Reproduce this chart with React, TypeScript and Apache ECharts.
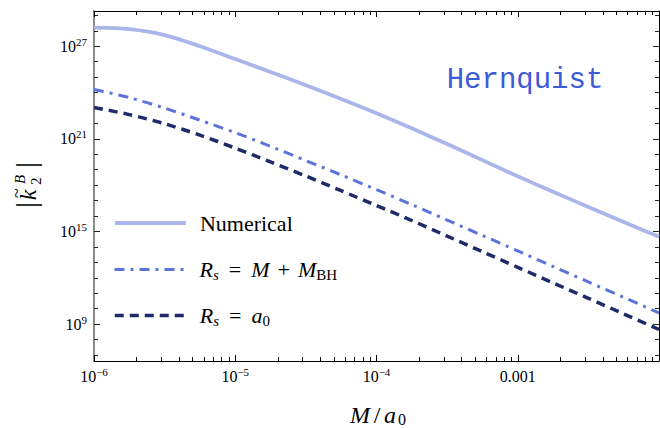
import React, { useEffect, useRef } from 'react';
import * as echarts from 'echarts';

// x sample positions: log10(M/a0)
const massRatioExp = [-6, -5.75, -5.5, -5.25, -5, -4.75, -4.5, -4.25, -4, -3.75, -3.5, -3.25, -3, -2.75, -2.5, -2.25, -2];
// log10 |k2^B|
const numericalLog10K = [28.2, 28.1, 27.72, 27.0, 26.17, 25.33, 24.47, 23.58, 22.66, 21.68, 20.66, 19.62, 18.57, 17.57, 16.59, 15.62, 14.65];
const rsMassBhLog10K = [24.2, 23.67, 22.99, 22.21, 21.4, 20.51, 19.59, 18.66, 17.71, 16.74, 15.74, 14.74, 13.74, 12.73, 11.73, 10.73, 9.73];
const rsA0Log10K = [23.03, 22.57, 21.98, 21.24, 20.4, 19.5, 18.59, 17.64, 16.68, 15.71, 14.7, 13.69, 12.68, 11.67, 10.67, 9.66, 8.65];

const seriesNames = ['Numerical', 'Rs = M + M_BH', 'Rs = a0'];

const xMinExp = -6;
const xMaxExp = -2;
const yMinExp = 6.61;
const yMaxExp = 29.28;
const xMajorTicks = [-6, -5, -4, -3, -2];
const xLabelTicks = [-6, -5, -4, -3];
const xMinorMultipliers = [2, 3, 4, 5, 6, 7, 8, 9];
const yMajorTicks = [9, 15, 21, 27];
const yMinorTicks = [7, 8, 9, 10, 11, 12, 13, 14, 15, 16, 17, 18, 19, 20, 21, 22, 23, 24, 25, 26, 27, 28, 29];

const SERIF = '"Liberation Serif", "Times New Roman", serif';
const MONO = '"Liberation Mono", "Courier New", monospace';

const labelRich = {
  b: { fontFamily: SERIF, fontSize: 16, lineHeight: 18, color: '#000' },
  s: { fontFamily: SERIF, fontSize: 11, lineHeight: 11, padding: [0, 0, 9, 0], color: '#000' },
};

const legendRich = {
  r: { fontFamily: SERIF, fontSize: 22, lineHeight: 26, color: '#000' },
  i: { fontFamily: SERIF, fontSize: 22, lineHeight: 26, fontStyle: 'italic', color: '#000' },
  eq: { fontFamily: SERIF, fontSize: 22, lineHeight: 26, padding: [0, 10, 0, 10], color: '#000' },
  pl: { fontFamily: SERIF, fontSize: 22, lineHeight: 26, padding: [0, 8, 0, 8], color: '#000' },
  sub: { fontFamily: SERIF, fontSize: 15, lineHeight: 16, fontStyle: 'italic', padding: [10, 0, 0, 0], color: '#000' },
  subr: { fontFamily: SERIF, fontSize: 15, lineHeight: 16, padding: [10, 0, 0, 0], color: '#000' },
};

const legendText: Record<string, string> = {
  'Numerical': '{r|Numerical}',
  'Rs = M + M_BH': '{i|R}{sub|s}{eq|=}{i|M}{pl|+}{i|M}{subr|BH}',
  'Rs = a0': '{i|R}{sub|s}{eq|=}{i|a}{subr|0}',
};

function xLabel(v: number): string {
  const e = Math.round(v);
  if (e >= -3) return `{b|${Math.pow(10, e).toFixed(-e)}}`;
  return `{b|10}{s|\u2212${-e}}`;
}
function yLabel(v: number): string {
  return `{b|10}{s|${Math.round(v)}}`;
}

export default function App() {
  const ref = useRef<HTMLDivElement>(null);
  useEffect(() => {
    if (!ref.current) return;
    const chart = echarts.init(ref.current, undefined, { renderer: 'svg' });

    const xMinor: number[] = [];
    for (let n = xMinExp; n < xMaxExp; n++) {
      xMinorMultipliers.forEach((m) => xMinor.push(n + Math.log10(m)));
    }

    const mkX = (position: string, major: boolean, withLine: boolean, withLabel: boolean) => ({
      type: 'value',
      position,
      min: xMinExp,
      max: xMaxExp,
      splitLine: { show: false },
      axisLine: { show: withLine, onZero: false, lineStyle: { color: '#000', width: 1 } },
      axisTick: {
        show: true,
        inside: true,
        length: major ? 6 : 4,
        customValues: major ? xMajorTicks : xMinor,
        lineStyle: { color: '#000', width: 1 },
      },
      axisLabel: withLabel
        ? { show: true, customValues: xLabelTicks, formatter: xLabel, margin: 6, rich: labelRich }
        : { show: false },
    });
    const mkY = (position: string, major: boolean, withLine: boolean, withLabel: boolean, lineColor: string, lineWidth: number) => ({
      type: 'value',
      position,
      min: yMinExp,
      max: yMaxExp,
      splitLine: { show: false },
      axisLine: { show: withLine, onZero: false, lineStyle: { color: lineColor, width: lineWidth } },
      axisTick: {
        show: true,
        inside: true,
        length: major ? 6 : 4,
        customValues: major ? yMajorTicks : yMinorTicks,
        lineStyle: { color: '#222', width: 1 },
      },
      axisLabel: withLabel
        ? { show: true, customValues: yMajorTicks, formatter: yLabel, margin: 7, rich: labelRich }
        : { show: false },
    });

    const colors = ['#aab6ea', '#5c73da', '#1f2a68'];
    const widths = [3.8, 3, 3.5];
    const types: any[] = ['solid', [10, 6, 3, 6], [9, 6]];
    const datasets = [numericalLog10K, rsMassBhLog10K, rsA0Log10K];
    const legendTops = [212, 257, 303];

    const option: any = {
      animation: false,
      backgroundColor: '#fff',
      grid: { left: 94, right: 1, top: 11, bottom: 67, containLabel: false, outerBoundsMode: 'none' },
      xAxis: [
        mkX('bottom', true, true, true),
        mkX('bottom', false, false, false),
        mkX('top', true, true, false),
        mkX('top', false, false, false),
      ],
      yAxis: [
        mkY('left', true, true, true, '#8a8a8a', 2),
        mkY('left', false, false, false, '#8a8a8a', 2),
        mkY('right', true, true, false, '#000', 1),
        mkY('right', false, false, false, '#000', 1),
      ],
      legend: seriesNames.map((name, i) => ({
        data: [name],
        orient: 'vertical',
        left: 113,
        top: legendTops[i],
        padding: 0,
        itemWidth: 71,
        itemHeight: 14,
        selectedMode: false,
        itemStyle: { opacity: 0, borderWidth: 0 },
        lineStyle: { width: widths[i] },
        formatter: (n: string) => legendText[n],
        textStyle: { fontFamily: SERIF, fontSize: 22, color: '#000', padding: [0, 0, 0, 9], rich: legendRich },
      })),
      series: seriesNames.map((name, i) => ({
        name,
        type: 'line',
        xAxisIndex: 0,
        yAxisIndex: 0,
        data: massRatioExp.map((x, j) => [x, datasets[i][j]]),
        symbol: 'none',
        showSymbol: false,
        smooth: 0.3,
        lineStyle: { color: colors[i], width: widths[i], type: types[i] },
        itemStyle: { color: colors[i] },
      })),
      graphic: [
        {
          type: 'text',
          x: 525,
          y: 80,
          style: { text: 'Hernquist', fontFamily: MONO, fontSize: 29, fill: '#3d5bd6', align: 'center', verticalAlign: 'middle' },
        },
        // x-axis title M/a0
        { type: 'text', x: 360, y: 415, style: { text: 'M', fontFamily: SERIF, fontStyle: 'italic', fontSize: 24, fill: '#000', align: 'center', verticalAlign: 'middle' } },
        { type: 'text', x: 377, y: 415, style: { text: '/', fontFamily: SERIF, fontSize: 24, fill: '#000', align: 'center', verticalAlign: 'middle' } },
        { type: 'text', x: 390, y: 415, style: { text: 'a', fontFamily: SERIF, fontStyle: 'italic', fontSize: 24, fill: '#000', align: 'center', verticalAlign: 'middle' } },
        { type: 'text', x: 402, y: 419, style: { text: '0', fontFamily: SERIF, fontSize: 16, fill: '#000', align: 'center', verticalAlign: 'middle' } },
        // y-axis title |k~_2^B|
        {
          type: 'group',
          x: 27,
          y: 185,
          rotation: Math.PI / 2,
          children: [
            { type: 'text', x: -20, y: -2, style: { text: '|', fontFamily: SERIF, fontSize: 30, fill: '#000', align: 'center', verticalAlign: 'middle' } },
            { type: 'text', x: -10, y: 1, style: { text: 'k', fontFamily: SERIF, fontStyle: 'italic', fontSize: 24, fill: '#000', align: 'center', verticalAlign: 'middle' } },
            { type: 'text', x: -8, y: -10, style: { text: '~', fontFamily: SERIF, fontSize: 18, fill: '#000', align: 'center', verticalAlign: 'middle' } },
            { type: 'text', x: 1, y: -7, style: { text: 'B', fontFamily: SERIF, fontStyle: 'italic', fontSize: 15, fill: '#000', align: 'left', verticalAlign: 'middle' } },
            { type: 'text', x: 0, y: 9, style: { text: '2', fontFamily: SERIF, fontSize: 15, fill: '#000', align: 'left', verticalAlign: 'middle' } },
            { type: 'text', x: 20, y: -2, style: { text: '|', fontFamily: SERIF, fontSize: 30, fill: '#000', align: 'center', verticalAlign: 'middle' } },
          ],
        },
      ],
    };
    chart.setOption(option);
    return () => chart.dispose();
  }, []);
  return <div ref={ref} style={{ position: 'fixed', left: 0, top: 0, width: 660, height: 428 }} />;
}
